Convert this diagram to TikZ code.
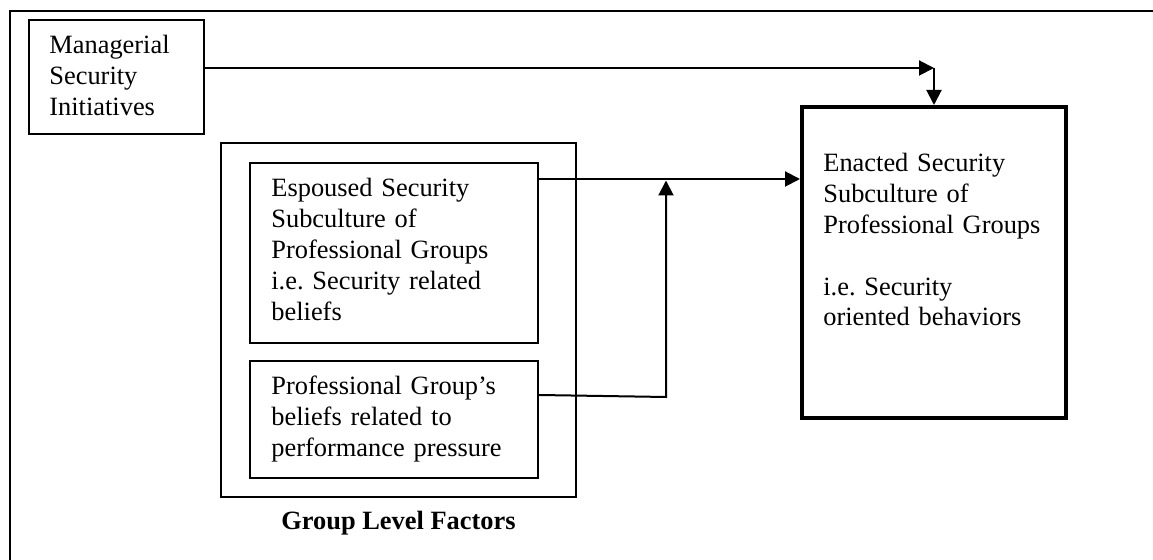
\documentclass[tikz,border=0pt]{standalone}
\usepackage{fontspec}
\setmainfont{Liberation Serif}
\usetikzlibrary{arrows.meta,fit}
\frenchspacing

\begin{document}
\begin{tikzpicture}[x=0.5pt,y=-0.5pt,
    box/.style={draw, line width=1.1pt, inner sep=0pt},
    heavybox/.style={draw, line width=2pt, inner sep=0pt},
    txt/.style={anchor=base west, inner sep=0pt, align=left, text width=#1,
                font=\fontsize{13.2}{15.4}\selectfont},
    conn/.style={line width=1pt},
    tip/.style={conn, -{Triangle[length=7.5pt,width=7.5pt]}}]
  \useasboundingbox (0,0) rectangle (1153,560);

  % open frame: top and left edges only
  \draw[line width=1.2pt] (1153,11) -- (10,11) -- (10,560);

  % boxes
  \node[box, fit={(29,20) (204,134)}] (mgr) {};
  \node[heavybox, fit={(802,107) (1066,418)}] (enact) {};
  \node[box, line width=1pt, fit={(221,143) (576,497)}] (group) {};
  \node[box, line width=1pt, fit={(250,163) (538,343)}] (esp) {};
  \node[box, line width=1pt, fit={(250,361) (538,478)}] (press) {};

  % box texts
  \node[txt=80pt] (mgrT) at (49,54) {Managerial\\Security\\Initiatives};
  \node[txt=125pt] (enactT) at (823,172)
    {Enacted Security\\Subculture of\\Professional Groups\\[15.4pt]i.e. Security\\oriented behaviors};
  \node[txt=135pt] (espT) at (271,197)
    {Espoused Security\\Subculture of\\Professional Groups\\i.e. Security related\\beliefs};
  \node[txt=135pt] (pressT) at (271,395)
    {Professional Group’s\\beliefs related to\\performance pressure};
  \node[anchor=base, inner sep=0pt, font=\fontsize{13.2}{15.4}\selectfont\bfseries]
    (groupT) at (group.south |- 0,530) {Group Level Factors};

  % routing points
  \coordinate (bend) at (934,68);
  \coordinate (join) at (666,179);
  \coordinate (joinTip) at (666,180.5);
  \coordinate (low) at (666,397);

  % connectors
  \draw[tip] (mgr.east |- bend) -- (bend);
  \draw[tip] (bend) -- (bend |- enact.north);
  \draw[tip] (esp.east |- join) -- (enact.west |- join);
  \draw[tip] (press.east |- 0,395) -- (low) -- (joinTip);
\end{tikzpicture}
\end{document}
